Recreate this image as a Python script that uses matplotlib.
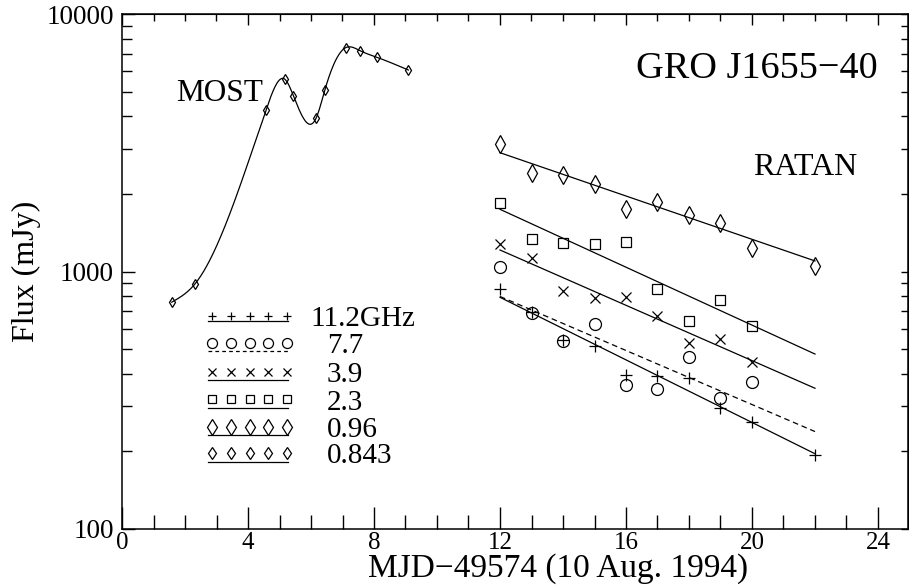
import matplotlib

matplotlib.use("Agg")
import matplotlib.pyplot as plt
import numpy as np
from matplotlib.ticker import FixedLocator, MultipleLocator, NullFormatter

plt.rcParams["font.family"] = ["Liberation Serif", "DejaVu Serif"]

# MOST 0.843 GHz light curve
most_day = [1.58, 2.32, 4.57, 5.17, 5.44, 6.16, 6.44, 7.10, 7.56, 8.09, 9.09]
most_flux = [760, 896, 4230, 5580, 4820, 3935, 5070, 7400, 7200, 6790, 6060]

# RATAN points
days_a = [12, 13, 14, 15, 16, 17, 18, 19, 20, 22]
days_b = [12, 13, 14, 15, 16, 17, 18, 19, 20]
flux_112 = [855, 698, 542, 515, 396, 393, 385, 296, 261, 193]
flux_77 = [1044, 688, 539, 624, 362, 350, 464, 322, 371]
flux_39 = [1276, 1131, 842, 787, 798, 673, 529, 547, 446]
flux_23 = [1840, 1337, 1287, 1276, 1298, 853, 642, 775, 614]
flux_096 = [3120, 2407, 2370, 2188, 1750, 1857, 1657, 1547, 1237, 1053]

# straight-line fits (log flux), drawn from day 12 to day 22
fit_days = [12, 22]
fit_112 = [794, 196]
fit_77 = [800, 239]
fit_39 = [1212, 352]
fit_23 = [1744, 478]
fit_096 = [2893, 1099]

legend_labels = ["11.2GHz", "7.7", "3.9", "2.3", "0.96", "0.843"]

# reference pixel frame of the axes box
X0, X1, Y0, Y1 = 122, 908, 529, 14


def ax_frac(px, py):
    return (px - X0) / (X1 - X0), (Y0 - py) / (Y0 - Y1)


def natural_spline(x, y, xs):
    x = np.asarray(x, float)
    y = np.asarray(y, float)
    n = len(x)
    h = np.diff(x)
    A = np.zeros((n, n))
    r = np.zeros(n)
    A[0, 0] = A[-1, -1] = 1
    for i in range(1, n - 1):
        A[i, i - 1] = h[i - 1]
        A[i, i] = 2 * (h[i - 1] + h[i])
        A[i, i + 1] = h[i]
        r[i] = 6 * ((y[i + 1] - y[i]) / h[i] - (y[i] - y[i - 1]) / h[i - 1])
    m = np.linalg.solve(A, r)
    idx = np.clip(np.searchsorted(x, xs) - 1, 0, n - 2)
    t = xs - x[idx]
    hi = h[idx]
    b = (y[idx + 1] - y[idx]) / hi - hi * (2 * m[idx] + m[idx + 1]) / 6
    return y[idx] + b * t + m[idx] / 2 * t**2 + (m[idx + 1] - m[idx]) / (6 * hi) * t**3


fig = plt.figure(figsize=(9.09, 5.85), dpi=100)
ax = fig.add_axes([X0 / 909, (585 - Y0) / 585, (X1 - X0) / 909, (Y0 - Y1) / 585])
ax.set_yscale("log")
ax.set_xlim(0, (X1 - X0) / 31.5)
ax.set_ylim(100, 10000)

lw = 0.9
mk = dict(linestyle="none", markerfacecolor="none", markeredgecolor="black", markeredgewidth=0.9)

# MOST curve
xs = np.linspace(most_day[0], most_day[-1], 400)
ys = 10 ** natural_spline(most_day, np.log10(most_flux), xs)
ax.plot(xs, ys, color="black", lw=lw)
ax.plot(most_day, most_flux, marker="d", markersize=5.6, **mk)

# RATAN
ax.plot(fit_days, fit_112, color="black", lw=lw)
ax.plot(fit_days, fit_77, color="black", lw=lw, linestyle=(0, (4.5, 3)))
ax.plot(fit_days, fit_39, color="black", lw=lw)
ax.plot(fit_days, fit_23, color="black", lw=lw)
ax.plot(fit_days, fit_096, color="black", lw=lw)
ax.plot(days_a, flux_112, marker="+", markersize=8, **mk)
ax.plot(days_b, flux_77, marker="o", markersize=8.6, **mk)
ax.plot(days_b, flux_39, marker="x", markersize=6.5, **mk)
ax.plot(days_b, flux_23, marker="s", markersize=7.2, **mk)
ax.plot(days_a, flux_096, marker="d", markersize=8.7, **mk)

# hand-drawn legend
rows = [
    ("+", 6.2, "-", 316, 321, 326),
    ("o", 7.2, (0, (3, 2.5)), 343, 351, 353),
    ("x", 5.4, "-", 372, 380, 382),
    ("s", 6.2, "-", 399, 408, 410),
    ("d", 8.2, "-", 427, 435, 437),
    ("d", 6.4, "-", 453, 462, 463),
]
mx = np.linspace(212, 287, 5)
for (marker, size, ls, yc, yl, yt), label in zip(rows, legend_labels):
    fx, fy = ax_frac(mx, np.full(5, yc))
    ax.plot(fx, fy, marker=marker, markersize=size, transform=ax.transAxes, **mk)
    lx, ly = ax_frac(np.array([208, 288]), np.array([yl, yl]))
    ax.plot(lx, ly, color="black", lw=lw, linestyle=ls, transform=ax.transAxes)
    tx = 310 if label == "11.2GHz" else 327
    ax.text(*ax_frac(tx, yt), label, transform=ax.transAxes, fontsize=21, va="baseline")

ax.text(*ax_frac(176, 101), "MOST", transform=ax.transAxes, fontsize=22.5, va="baseline")
ax.text(*ax_frac(878, 78), "GRO J1655\u221240", transform=ax.transAxes, fontsize=27.5,
        va="baseline", ha="right")
ax.text(*ax_frac(753, 175), "RATAN", transform=ax.transAxes, fontsize=23, va="baseline")

# axes and ticks
for s in ax.spines.values():
    s.set_linewidth(1.1)
ax.xaxis.set_major_locator(MultipleLocator(4))
ax.xaxis.set_minor_locator(MultipleLocator(1))
ax.yaxis.set_major_locator(FixedLocator([100, 1000, 10000]))
ax.yaxis.set_minor_locator(FixedLocator([k * 10**e for e in (2, 3) for k in range(2, 10)]))
ax.yaxis.set_minor_formatter(NullFormatter())
ax.set_yticklabels(["100", "1000", "10000"])
ax.tick_params(axis="x", which="major", direction="in", length=16, width=1, labelsize=18, pad=2)
ax.tick_params(axis="x", which="minor", direction="in", length=10, width=1)
ax.tick_params(axis="y", which="major", direction="in", length=9, width=1, labelsize=19.5, pad=6)
ax.tick_params(axis="y", which="minor", direction="in", length=7, width=1)

top = ax.secondary_xaxis("top")
top.xaxis.set_major_locator(MultipleLocator(4))
top.xaxis.set_minor_locator(MultipleLocator(1))
top.tick_params(which="major", direction="in", length=8, width=1, labeltop=False)
top.tick_params(which="minor", direction="in", length=5, width=1)

right = ax.secondary_yaxis("right")
right.yaxis.set_major_locator(FixedLocator([100, 1000, 10000]))
right.yaxis.set_minor_locator(FixedLocator([k * 10**e for e in (2, 3) for k in range(2, 10)]))
right.tick_params(which="both", direction="in", length=5, width=1, labelright=False)

ax.set_xlabel("MJD\u221249574 (10 Aug. 1994)", fontsize=24)
ax.xaxis.set_label_coords((558 - X0) / (X1 - X0), (Y0 - 553) / (Y0 - Y1))
ax.set_ylabel("Flux (mJy)", fontsize=23, labelpad=4)

fig.savefig("out.png", dpi=100)
